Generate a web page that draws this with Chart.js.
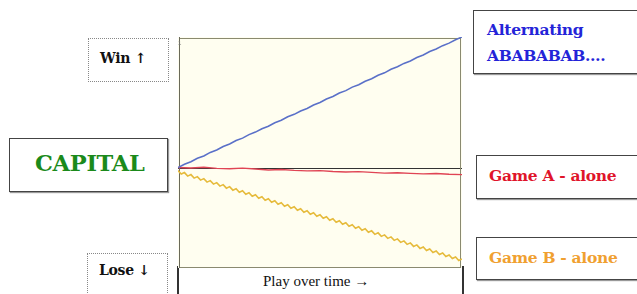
<!DOCTYPE html>
<html>
<head>
<meta charset="utf-8">
<script src="https://cdn.jsdelivr.net/npm/chart.js@4.4.0/dist/chart.umd.min.js"></script>
<style>
  html, body { margin: 0; padding: 0; background: #fff; }
  body { width: 637px; height: 294px; position: relative; overflow: hidden; font-family: "Liberation Serif", "Times New Roman", "DejaVu Serif", serif; }
  .box { position: absolute; box-sizing: border-box; background: #fff; }
  .solid { border: 1.5px solid #444; box-shadow: 1px 1px 1px #999; }
  .dotted { border: 1.5px dotted #888; }
  .lbl { position: absolute; font-weight: bold; white-space: nowrap; font-family: "DejaVu Serif", serif; letter-spacing: -0.3px; }
  #plot { position: absolute; left: 176px; top: 36px; width: 288px; height: 232px; }
</style>
</head>
<body>
<div class="box dotted" style="left:88px;top:38px;width:81px;height:44px;"></div>
<div class="lbl" style="left:100px;top:50px;font-size:14px;color:#111;">Win &#8593;</div>

<div class="box solid" style="left:9px;top:138px;width:159px;height:54px;"></div>
<div class="lbl" style="left:35px;top:150px;font-size:22.5px;color:#1b8a1b;">CAPITAL</div>

<div class="box dotted" style="left:87px;top:253px;width:81px;height:60px;"></div>
<div class="lbl" style="left:99px;top:262px;font-size:14px;color:#111;">Lose &#8595;</div>

<div class="box solid" style="left:473px;top:10px;width:180px;height:64px;"></div>
<div class="lbl" style="left:487px;top:17px;font-size:15.5px;line-height:26px;color:#2424d8;">Alternating<br>ABABABAB&#8230;.</div>

<div class="box solid" style="left:476px;top:155px;width:180px;height:44px;"></div>
<div class="lbl" style="left:489px;top:166px;font-size:15.5px;color:#e0142a;">Game A - alone</div>

<div class="box solid" style="left:476px;top:237px;width:180px;height:43px;"></div>
<div class="lbl" style="left:489px;top:248px;font-size:15.5px;color:#f0a030;">Game B - alone</div>

<div class="box" style="left:177px;top:266px;width:287px;height:40px;border:2px solid #333;"></div>
<div style="position:absolute;left:263px;top:273px;font-size:15px;color:#111;">Play over time <b>&#8594;</b></div>

<div id="plot"><canvas id="capitalChart"></canvas></div>

<script>
// capital over time (pixels of capital, 0 = start), time runs 0..88 plays
var playTime = 88;

var alternatingAB = [0, 3.3, 5.8, 9.2, 11.6, 15.1, 17.5, 21.0, 23.4, 26.9, 29.3, 32.8, 35.3, 38.7, 41.2,
    44.6, 47.1, 50.5, 53.0, 56.4, 58.9, 62.3, 64.8, 68.3, 70.7, 74.2, 76.6, 80.1, 82.5, 86.0,
    88.4, 91.9, 94.3, 97.8, 100.3, 103.7, 106.2, 109.6, 112.1, 115.5, 118.0, 121.4, 123.9, 127.3, 130];

var gameAAlone = [0, -0.5, 0.3, -0.8, -1.2, -0.6, -1.5, -2.4, -2.0, -2.8, -3.3, -3.0,
    -3.9, -4.4, -4.0, -4.8, -5.5, -5.1, -5.8, -6.3, -5.9, -6.6, -7];

var gameBAlone = [-3, -6.5, -5, -8.5, -7, -10.5, -9, -12.5, -11, -14.5,
    -13, -16.5, -15, -18.5, -17, -20.5, -19, -22.5, -21, -24.5,
    -23, -26.5, -25, -28.5, -27, -30.5, -29, -32.5, -31, -34.5,
    -33, -36.5, -35, -38.5, -37, -40.5, -39, -42.5, -41, -44.5,
    -43, -46.5, -45, -48.5, -47, -50.5, -49, -52.5, -51, -54.5,
    -53, -56.5, -55, -58.5, -57, -60.5, -59, -62.5, -61, -64.5,
    -63, -66.5, -65, -68.5, -67, -70.5, -69, -72.5, -71, -74.5,
    -73, -76.5, -75, -78.5, -77, -80.5, -79, -82.5, -81, -84.5,
    -83, -86.5, -85, -88.5, -87, -90.5, -89, -92.5, -91];

function overTime(vals) {
    return vals.map(function (v, i) { return { x: i * playTime / (vals.length - 1), y: v }; });
}

// cream background, frame and the zero line
var framePlugin = {
    id: 'frame',
    beforeDraw: function (chart) {
        var c = chart.ctx, a = chart.chartArea;
        c.save();
        c.fillStyle = '#fffef0';
        c.fillRect(a.left, a.top, a.right - a.left, a.bottom - a.top);
        c.restore();
    },
    beforeDatasetsDraw: function (chart) {
        var c = chart.ctx, a = chart.chartArea;
        var y0 = Math.round(chart.scales.y.getPixelForValue(0)) + 0.5;
        c.save();
        c.strokeStyle = '#333';
        c.lineWidth = 1.2;
        c.beginPath();
        c.moveTo(a.left, y0);
        c.lineTo(a.right, y0);
        c.stroke();
        c.strokeStyle = '#8a8a70';
        c.lineWidth = 1;
        c.strokeRect(a.left + 1.5, a.top + 1.5, a.right - a.left - 3, a.bottom - a.top - 2);
        c.strokeStyle = '#6a6a5a';
        c.beginPath();
        c.moveTo(a.left + 1.5, a.top);
        c.lineTo(a.left + 1.5, a.bottom);
        c.stroke();
        c.fillStyle = '#777';
        c.font = '6px sans-serif';
        c.fillText('1', a.left - 0, a.top + 8);
        c.restore();
    }
};

var ctx = document.getElementById('capitalChart').getContext('2d');
var capitalChart = new Chart(ctx, {
    type: 'line',
    data: {
        datasets: [{
            label: 'Alternating ABABABAB',
            data: overTime(alternatingAB),
            borderColor: '#5a70c8',
            borderWidth: 1.6
        }, {
            label: 'Game A - alone',
            data: overTime(gameAAlone),
            borderColor: '#e04454',
            borderWidth: 1.4
        }, {
            label: 'Game B - alone',
            data: overTime(gameBAlone),
            borderColor: '#e6bb3c',
            borderWidth: 1.6
        }]
    },
    options: {
        responsive: true,
        maintainAspectRatio: false,
        animation: false,
        layout: { padding: { left: 2, right: 2, top: 1, bottom: 0 } },
        elements: { point: { radius: 0 }, line: { tension: 0 } },
        plugins: { legend: { display: false }, tooltip: { enabled: false } },
        scales: {
            x: { type: 'linear', min: 0, max: playTime, display: false },
            y: { min: -100, max: 130, display: false }
        }
    },
    plugins: [framePlugin]
});
</script>
</body>
</html>
